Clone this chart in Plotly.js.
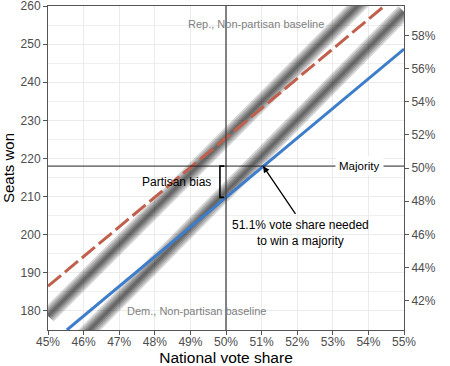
<!DOCTYPE html>
<html><head><meta charset="utf-8">
<script src="https://cdn.plot.ly/plotly-3.0.1.min.js"></script>
<style>html,body{margin:0;padding:0;background:#fff}</style>
</head><body><div id="chart" style="width:450px;height:366px"></div>
<script>
// ---- data ----
const demX = [45.53, 55];
const demSeats = [175, 248.7];
const repX = [45, 55];
const repSeats = [186.5, 264.3];
const repBaseX = [45, 55];
const repBaseSeats = [178.7, 272.2];
const demBaseX = [45, 55];
const demBaseSeats = [164.0, 258.5];
const majoritySeats = 218;
const totalSeats = 435;
const demSeatsAtEven = 209.8;
const voteNeeded = 51.04;
const xTicks = [45, 46, 47, 48, 49, 50, 51, 52, 53, 54, 55];
const yTicks = [180, 190, 200, 210, 220, 230, 240, 250, 260];
const shareTicks = [0.42, 0.44, 0.46, 0.48, 0.50, 0.52, 0.54, 0.56, 0.58];
const xRange = [45, 55];
const yRange = [175, 260];

function band(x, y) {
  const widths = [16, 12.5, 9, 6, 3];
  return widths.map(w => ({
    x: x, y: y, type: 'scatter', mode: 'lines', hoverinfo: 'skip', showlegend: false,
    line: {color: 'rgba(0,0,0,0.16)', width: w}
  }));
}

const traces = [].concat(
  band(repBaseX, repBaseSeats),
  band(demBaseX, demBaseSeats),
  [{x: repX, y: repSeats, type: 'scatter', mode: 'lines', showlegend: false,
    line: {color: '#c0604c', width: 3, dash: '17px,5px'}},
   {x: demX, y: demSeats, type: 'scatter', mode: 'lines', showlegend: false,
    line: {color: '#3d7dc9', width: 3}},
   {x: [xRange[0]], y: [yRange[0] / totalSeats], yaxis: 'y2', type: 'scatter', mode: 'markers',
    marker: {opacity: 0}, showlegend: false, hoverinfo: 'skip'}]
);

const tickFont = {family: 'Arial, Liberation Sans, sans-serif', size: 12, color: '#4d4d4d'};
const axisCommon = {
  showline: true, linecolor: '#555', linewidth: 1, ticks: 'outside', ticklen: 4,
  tickcolor: '#555', tickwidth: 1, tickfont: tickFont, zeroline: false,
  ticklabeloverflow: 'allow'
};

const layout = {
  width: 450, height: 366,
  margin: {l: 48, r: 46, t: 6, b: 36},
  paper_bgcolor: '#fff', plot_bgcolor: '#fff',
  font: {family: 'Arial, Liberation Sans, sans-serif'},
  xaxis: Object.assign({}, axisCommon, {
    range: xRange, tickvals: xTicks, ticktext: xTicks.map(v => v + '%'),
    showgrid: true, gridcolor: '#ebebeb', gridwidth: 1, mirror: true,
    ticklabelstandoff: -3,
    title: {text: 'National vote share', font: {size: 15.5, color: '#000'}, standoff: 3}
  }),
  yaxis: Object.assign({}, axisCommon, {
    range: yRange, tickvals: yTicks, mirror: true,
    showgrid: true, gridcolor: '#ebebeb', gridwidth: 1,
    minor: {dtick: 5, tick0: 175, showgrid: true, gridcolor: '#efefef', gridwidth: 1, ticks: ''},
    title: {text: 'Seats won', font: {size: 15, color: '#000'}, standoff: 4}
  }),
  yaxis2: Object.assign({}, axisCommon, {
    overlaying: 'y', side: 'right', range: [yRange[0] / totalSeats, yRange[1] / totalSeats],
    tickvals: shareTicks, tickformat: '.0%', showgrid: false, showline: false
  }),
  shapes: [
    {type: 'line', xref: 'x', yref: 'paper', x0: 50, x1: 50, y0: 0, y1: 1,
     line: {color: '#444', width: 1.3}, layer: 'above'},
    {type: 'line', xref: 'paper', yref: 'y', x0: 0, x1: 1, y0: majoritySeats, y1: majoritySeats,
     line: {color: '#222', width: 1}, layer: 'above'},
    {type: 'path', xref: 'x', yref: 'y', layer: 'above',
     path: `M 49.95 ${majoritySeats} L 49.83 ${majoritySeats} L 49.83 ${demSeatsAtEven} L 49.95 ${demSeatsAtEven}`,
     line: {color: '#000', width: 1.6}}
  ],
  annotations: [
    {x: 50.85, y: 255.3, xref: 'x', yref: 'y', text: 'Rep., Non-partisan baseline', showarrow: false,
     font: {size: 11, color: '#808080'}},
    {x: 49.17, y: 180, xref: 'x', yref: 'y', text: 'Dem., Non-partisan baseline', showarrow: false,
     font: {size: 11, color: '#808080'}},
    {x: 48.62, y: 213.9, xref: 'x', yref: 'y', text: 'Partisan bias', showarrow: false,
     font: {size: 12, color: '#000'}},
    {x: 53.74, y: majoritySeats, xref: 'x', yref: 'y', text: 'Majority', showarrow: false,
     font: {size: 11.5, color: '#000'}, bgcolor: '#fff', borderpad: 3},
    {x: voteNeeded, y: majoritySeats, xref: 'x', yref: 'y', axref: 'x', ayref: 'y',
     ax: 51.98, ay: 205.1, text: '', showarrow: true, arrowhead: 2, arrowsize: 1,
     arrowwidth: 1.3, arrowcolor: '#000', standoff: 0},
    {x: 52.09, y: 200.4, xref: 'x', yref: 'y', text: '51.1% vote share needed<br>to win a majority',
     showarrow: false, font: {size: 12, color: '#000'}}
  ]
};

Plotly.newPlot('chart', traces, layout, {displayModeBar: false, staticPlot: true});
</script></body></html>
